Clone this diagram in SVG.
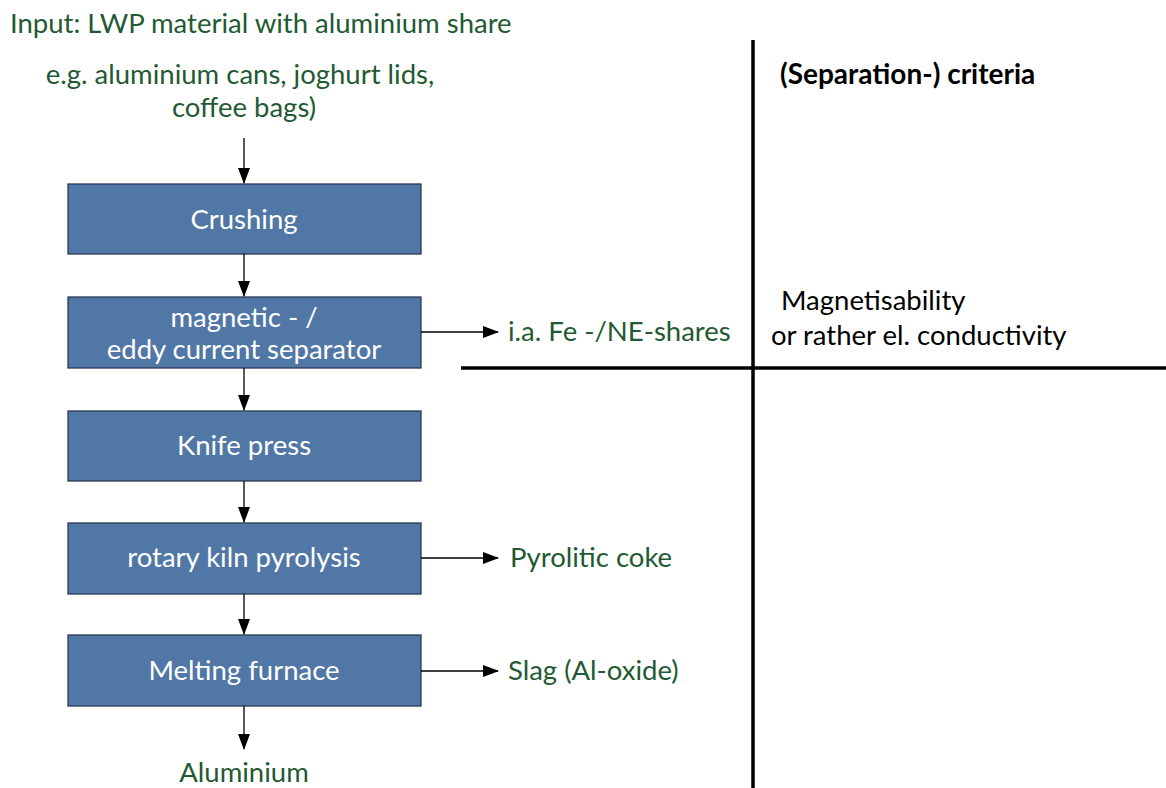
<svg xmlns="http://www.w3.org/2000/svg" width="1166" height="788" viewBox="0 0 1166 788">
<defs>
<marker id="ahv" markerWidth="16" markerHeight="12" refX="15" refY="6" orient="auto" markerUnits="userSpaceOnUse">
<path d="M0,0 L16,6 L0,12 z" fill="#000"/>
</marker>
</defs>
<style>
text{font-family:Lato,"Open Sans","Liberation Sans",sans-serif;font-size:27.5px}
.g{fill:#1f5a33}
.w{fill:#fff;text-anchor:middle}
.k{fill:#000}
.box{fill:#5077a5;stroke:#2a3a55;stroke-width:1.3}
.ln{stroke:#000;stroke-width:1.3;fill:none}
.thick{stroke:#000;stroke-width:3.5;fill:none}
</style>
<rect width="1166" height="788" fill="#fff"/>
<g id="input">
<text class="g" x="10" y="33">Input: LWP material with aluminium share</text>
<text class="g" x="240" y="84" text-anchor="middle">e.g. aluminium cans, joghurt lids,</text>
<text class="g" x="244" y="117" text-anchor="middle">coffee bags)</text>
</g>
<g id="crushing"><rect class="box" x="68" y="184" width="353" height="70"/><text class="w" x="244" y="229">Crushing</text></g>
<g id="separator"><rect class="box" x="68" y="297" width="353" height="71"/><text class="w" x="244" y="327">magnetic - /</text><text class="w" x="244" y="359">eddy current separator</text></g>
<g id="knife"><rect class="box" x="68" y="411" width="353" height="70"/><text class="w" x="244" y="455">Knife press</text></g>
<g id="kiln"><rect class="box" x="68" y="523" width="353" height="71"/><text class="w" x="244" y="567">rotary kiln pyrolysis</text></g>
<g id="furnace"><rect class="box" x="68" y="635" width="353" height="71"/><text class="w" x="244" y="680">Melting furnace</text></g>
<g id="outputs">
<text class="g" x="244" y="782" text-anchor="middle">Aluminium</text>
<text class="g" x="508" y="341">i.a. Fe -/NE-shares</text>
<text class="g" x="510" y="567">Pyrolitic coke</text>
<text class="g" x="508" y="680">Slag (Al-oxide)</text>
</g>
<g id="criteria">
<text class="k" x="780" y="84" font-weight="bold" style="font-size:28px">(Separation-) criteria</text>
<text class="k" x="781" y="310">Magnetisability</text>
<text class="k" x="771" y="345">or rather el. conductivity</text>
</g>
<g id="connectors">
<line class="ln" x1="244" y1="138" x2="244" y2="183" marker-end="url(#ahv)"/>
<line class="ln" x1="244" y1="254" x2="244" y2="296" marker-end="url(#ahv)"/>
<line class="ln" x1="244" y1="368" x2="244" y2="410" marker-end="url(#ahv)"/>
<line class="ln" x1="244" y1="481" x2="244" y2="522" marker-end="url(#ahv)"/>
<line class="ln" x1="244" y1="594" x2="244" y2="634" marker-end="url(#ahv)"/>
<line class="ln" x1="244" y1="706" x2="244" y2="749" marker-end="url(#ahv)"/>
<line class="ln" x1="421" y1="332" x2="498" y2="332" marker-end="url(#ahv)"/>
<line class="ln" x1="421" y1="558" x2="498" y2="558" marker-end="url(#ahv)"/>
<line class="ln" x1="421" y1="671" x2="498" y2="671" marker-end="url(#ahv)"/>
<line class="thick" x1="753" y1="40" x2="753" y2="788"/>
<line class="thick" x1="461" y1="368" x2="1166" y2="368"/>
</g>
</svg>
